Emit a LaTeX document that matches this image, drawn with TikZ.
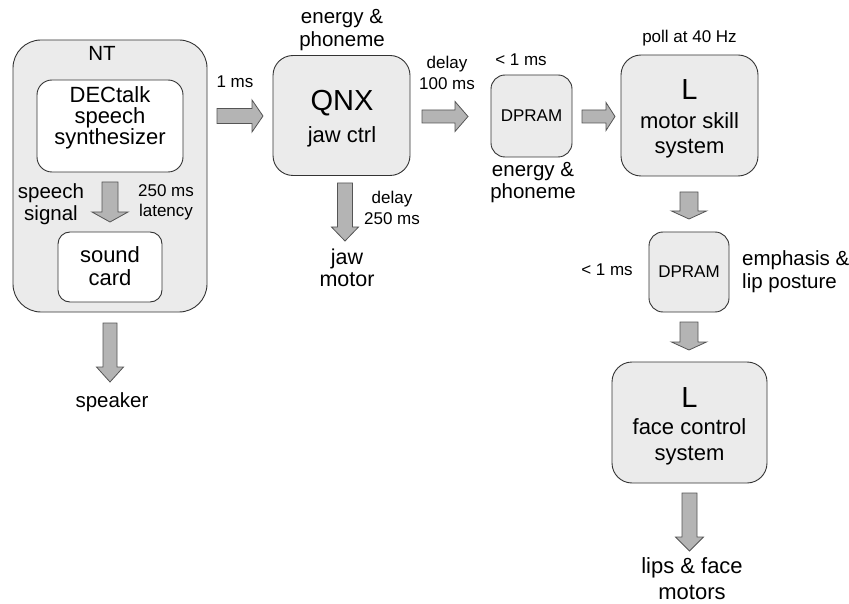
\documentclass[tikz,border=0pt]{standalone}
\usepackage{fontspec}
\setmainfont{Liberation Sans}
\usetikzlibrary{calc}
\definecolor{boxfill}{HTML}{EBEBEB}
\definecolor{boxline}{HTML}{333333}
\definecolor{arrfill}{HTML}{B4B4B4}
\definecolor{arrline}{HTML}{555555}
\newcommand\fBig{\fontsize{29}{30}\selectfont}
\newcommand\fBox{\fontsize{22}{21}\selectfont}
\newcommand\fLab{\fontsize{20.5}{23}\selectfont}
\newcommand\fSm{\fontsize{17}{21}\selectfont}
\newcommand\blkarrow[5]{%
  \path ($(#2)!#5!(#1)$) coordinate (bah);
  \draw[blkarrowstyle] ($(#1)!#3!90:(#2)$) -- ($(bah)!#3!90:(#2)$) -- ($(bah)!#4!90:(#2)$) -- (#2)
    -- ($(bah)!#4!-90:(#2)$) -- ($(bah)!#3!-90:(#2)$) -- ($(#1)!#3!-90:(#2)$) -- cycle;}
\tikzset{
  box/.style={draw=boxline, fill=boxfill, line width=0.9pt, rounded corners=#1, inner sep=0pt},
  box/.default=20pt,
  wbox/.style={box=#1, fill=white},
  wbox/.default=14pt,
  txt/.style={inner sep=0pt, align=center, text=black},
  blkarrowstyle/.style={fill=arrfill, draw=arrline, line width=0.8pt, line join=miter},
}
\begin{document}
\begin{tikzpicture}[x=1pt,y=-1pt]
\useasboundingbox (0,0) rectangle (849,604);
% NT group
\node[box=28pt, minimum width=194pt, minimum height=272pt] (nt) at (110,176) {};
\node[txt, font=\fLab] (ntl) at (102,53) {NT};
\node[wbox=15pt, minimum width=146pt, minimum height=92pt] (dec) at (110,126) {};
\node[txt, font=\fontsize{22}{20.5}\selectfont] (dect) at (110,118) {DECtalk\\speech\\synthesizer};
\node[wbox=12pt, minimum width=104pt, minimum height=70pt] (snd) at (110,267) {};
\node[txt, font=\fontsize{22}{23}\selectfont] (sndt) at (110,266) {sound\\card};
\node[txt, font=\fontsize{20.5}{22}\selectfont] (sps) at (51,204) {speech\\signal};
\node[txt, font=\fontsize{17}{20}\selectfont] (lat) at (166,202) {250 ms\\latency};
\node[txt, font=\fLab] (spk) at (112,402) {speaker};
% QNX
\node[txt, font=\fSm] (ms1) at (235,82) {1 ms};
\node[txt, font=\fontsize{20.5}{23.5}\selectfont] (ep1) at (342,30) {energy \&\\phoneme};
\node[box=20pt, minimum width=137pt, minimum height=120pt] (qnx) at (341.5,115.5) {};
\node[txt, font=\fBig] (qnxa) at (342,103) {QNX};
\node[txt, font=\fontsize{22}{24}\selectfont] (qnxb) at (342,137) {jaw ctrl};
\node[txt, font=\fontsize{17}{21}\selectfont] (d250) at (392,207.5) {delay\\250 ms};
\node[txt, font=\fontsize{21.5}{22}\selectfont] (jaw) at (347,267.5) {jaw\\motor};
\node[txt, font=\fontsize{17}{21}\selectfont] (d100) at (447,72.5) {delay\\100 ms};
% DPRAM 1
\node[txt, font=\fSm] (lt1) at (521,60) {< 1 ms};
\node[box=14pt, minimum width=81pt, minimum height=82pt, font=\fSm] (dp1) at (531.5,116) {DPRAM};
\node[txt, font=\fontsize{20.5}{21.5}\selectfont] (ep2) at (533,182.5) {energy \&\\phoneme};
% motor skill
\node[txt, font=\fSm] (poll) at (689.5,38) {poll at 40 Hz};
\node[box=20pt, minimum width=137pt, minimum height=121pt] (msk) at (689.5,115.5) {};
\node[txt, font=\fBig] (mska) at (689.5,90) {L};
\node[txt, font=\fontsize{22}{25}\selectfont] (mskb) at (689.5,135.5) {motor skill\\system};
% DPRAM 2
\node[box=14pt, minimum width=80pt, minimum height=80pt, font=\fSm] (dp2) at (689,272) {DPRAM};
\node[txt, font=\fSm] (lt2) at (607,270) {< 1 ms};
\node[txt, font=\fontsize{20.5}{23}\selectfont, anchor=west, align=left] (emp) at (742,271.5) {emphasis \&\\lip posture};
% face control
\node[box=20pt, minimum width=155pt, minimum height=121pt] (face) at (689.5,422.5) {};
\node[txt, font=\fBig] (facea) at (689.5,398) {L};
\node[txt, font=\fontsize{22}{26}\selectfont] (faceb) at (689.5,442) {face control\\system};
\node[txt, font=\fontsize{22}{26}\selectfont] (lips) at (692,579) {lips \& face\\motors};
% arrow end points
\coordinate (a1s) at (110,182); \coordinate (a1e) at (110,222);
\coordinate (a2s) at (110,323); \coordinate (a2e) at (110,382);
\coordinate (a3s) at (217,116); \coordinate (a3e) at (263,116);
\coordinate (a4s) at (345,183); \coordinate (a4e) at (345,241);
\coordinate (a5s) at (422,116.5); \coordinate (a5e) at (468,116.5);
\coordinate (a6s) at (582,116.5); \coordinate (a6e) at (615,116.5);
\coordinate (a7s) at (689,192); \coordinate (a7e) at (689,219);
\coordinate (a8s) at (689,322); \coordinate (a8e) at (689,350);
\coordinate (a9s) at (689.5,493); \coordinate (a9e) at (689.5,551);
\blkarrow{a1s}{a1e}{8pt}{18pt}{10pt}
\blkarrow{a2s}{a2e}{7pt}{13.5pt}{15pt}
\blkarrow{a3s}{a3e}{7.5pt}{16pt}{11pt}
\blkarrow{a4s}{a4e}{7.5pt}{13.5pt}{14pt}
\blkarrow{a5s}{a5e}{6.5pt}{15pt}{13pt}
\blkarrow{a6s}{a6e}{6.5pt}{14pt}{9pt}
\blkarrow{a7s}{a7e}{9pt}{17.5pt}{8pt}
\blkarrow{a8s}{a8e}{9pt}{17.5pt}{8pt}
\blkarrow{a9s}{a9e}{7.5pt}{14pt}{14pt}
\end{tikzpicture}
\end{document}
